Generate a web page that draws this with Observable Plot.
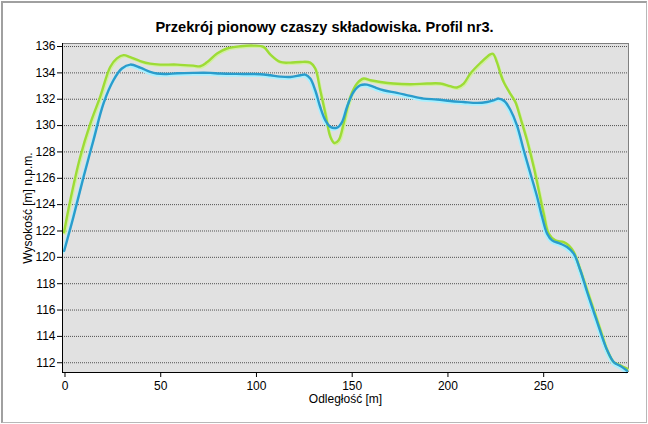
<!DOCTYPE html>
<html>
<head>
<meta charset="utf-8">
<script src="https://cdn.jsdelivr.net/npm/d3@7"></script>
<script src="https://cdn.jsdelivr.net/npm/@observablehq/plot@0.6"></script>
<style>
  html, body { margin: 0; padding: 0; background: #ffffff; }
  #wrap { position: relative; width: 648px; height: 424px; overflow: hidden; background: #ffffff; }
  #border { position: absolute; left: 1px; top: 1px; width: 643px; height: 419px;
            border-top: 2px solid #a0a0a0; border-left: 2px solid #a0a0a0;
            border-right: 1px solid #b8b8b8; border-bottom: 1px solid #b8b8b8; pointer-events: none; }
  svg { display: block; }
</style>
</head>
<body>
<div id="wrap"><div id="border"></div></div>
<script>
const title = "Przekrój pionowy czaszy składowiska. Profil nr3.";
const xLabel = "Odległość [m]";
const yLabel = "Wysokość [m] n.p.m.";
const xTicks = [0, 50, 100, 150, 200, 250];
const yTicks = [112, 114, 116, 118, 120, 122, 124, 126, 128, 130, 132, 134, 136];
const xDomain = [-1.3, 294.3];
const yDomain = [111.26, 136.23];

// Green series (upper profile)
const greenX = [-0.5, 2.7, 7.9, 13.2, 18.4, 23.6, 27.1, 30.6, 34.1, 39.3, 44.5, 49.7, 58.5, 67.1, 70.6, 74.1, 79.4, 84.6, 91.5, 98.5, 103.7, 107.2, 112.4, 117.7, 122.9, 128.1, 130.7, 133.3, 136, 138.6, 140.6, 142.9, 145.5, 149, 152.5, 156, 159.5, 164.7, 171.6, 180.4, 189.1, 196, 201.2, 204.7, 208.2, 211.7, 216.9, 222.1, 223.5, 225.6, 227.4, 229.1, 232.6, 235.2, 237.8, 241.3, 244.8, 247.4, 250, 252.6, 256.1, 260.5, 263.1, 265.7, 269.2, 272.7, 276.2, 279.7, 283.2, 286.6, 290.1, 293.6];
const greenY = [121.9, 124.3, 127.6, 130.15, 132.2, 134.45, 135.1, 135.35, 135.2, 134.9, 134.7, 134.63, 134.63, 134.55, 134.5, 134.8, 135.47, 135.85, 136.02, 136.07, 135.97, 135.4, 134.83, 134.78, 134.83, 134.78, 134.33, 132.68, 130.9, 129.14, 128.68, 128.89, 130.15, 132.17, 133.19, 133.57, 133.44, 133.31, 133.19, 133.14, 133.19, 133.19, 132.99, 132.89, 133.19, 133.95, 134.75, 135.41, 135.45, 134.8, 133.95, 133.3, 132.4, 131.79, 130.6, 128.89, 126.86, 125.09, 123.32, 121.8, 121.29, 121.16, 120.91, 120.4, 119.01, 117.5, 115.98, 114.46, 112.94, 112.05, 111.8, 111.55];

// Blue series (lower profile)
const blueX = [-0.4, 4.4, 9.7, 14.9, 20.1, 25.3, 29.7, 34.1, 39.3, 44.5, 48, 53.2, 58.5, 67.1, 75.9, 81.1, 93.3, 102, 107.2, 112.4, 117.7, 122.9, 125.5, 128.1, 130.7, 133.3, 136, 138.6, 142.1, 144.7, 147.3, 150.7, 154.2, 157.7, 161.2, 166.4, 173.4, 180.4, 187.3, 194.3, 201.2, 208.2, 215.2, 220.4, 223.9, 226.5, 229.6, 232.6, 236.1, 239.6, 243.1, 246.6, 249.2, 251.8, 254.4, 258.7, 262.2, 265.7, 269.2, 272.7, 276.2, 279.7, 283.2, 286.6, 290.1, 293.6];
const blueY = [120.5, 123.06, 126.1, 128.9, 131.67, 133.44, 134.33, 134.63, 134.4, 134.07, 133.95, 133.92, 133.97, 134.0, 134.0, 133.95, 133.92, 133.9, 133.82, 133.72, 133.69, 133.82, 133.87, 133.57, 132.68, 131.41, 130.4, 129.9, 129.85, 130.27, 131.41, 132.55, 133.06, 133.11, 132.93, 132.68, 132.48, 132.25, 132.05, 131.98, 131.87, 131.79, 131.72, 131.79, 131.92, 132.05, 131.85, 131.2, 130.0, 128.13, 126.36, 124.58, 123.06, 121.8, 121.29, 121.04, 120.78, 120.28, 119.0, 117.37, 115.85, 114.33, 112.94, 112.05, 111.75, 111.4];

const green = greenX.map((x, i) => ({x, y: greenY[i]}));
const blue = blueX.map((x, i) => ({x, y: blueY[i]}));

const chart = Plot.plot({
  width: 648,
  height: 424,
  marginLeft: 62,
  marginRight: 20,
  marginTop: 43,
  marginBottom: 52,
  style: {fontFamily: "'Liberation Sans', Arial, sans-serif", fontSize: "12px", background: "transparent", color: "#000"},
  x: {domain: xDomain},
  y: {domain: yDomain},
  marks: [
    Plot.frame({fill: "#e1e1e1", stroke: null}),
    Plot.gridY(yTicks, {stroke: "#505050", strokeOpacity: 1, strokeDasharray: "1,1", strokeWidth: 1}),
    Plot.ruleY([yDomain[1]], {stroke: "#808080", strokeWidth: 1}),
    Plot.ruleX([xDomain[1]], {stroke: "#808080", strokeWidth: 1}),
    Plot.line(green, {x: "x", y: "y", curve: "catmull-rom", stroke: "#d2f0a0", strokeWidth: 2.5, dx: 1, dy: 1.2}),
    Plot.line(blue, {x: "x", y: "y", curve: "catmull-rom", stroke: "#a8f0ff", strokeWidth: 2.8, dx: -1, dy: 1.5}),
    Plot.line(green, {x: "x", y: "y", curve: "catmull-rom", stroke: "#9ddc36", strokeWidth: 2.4}),
    Plot.line(blue, {x: "x", y: "y", curve: "catmull-rom", stroke: "#2a9ccc", strokeWidth: 2.4}),
    Plot.ruleY([yDomain[0]], {stroke: "#000", strokeWidth: 1}),
    Plot.ruleX([xDomain[0]], {stroke: "#000", strokeWidth: 1}),
    Plot.axisY(yTicks, {tickSize: 5, tickPadding: 2, label: null, fontSize: 12, stroke: "#000", fill: "#000"}),
    Plot.axisX(xTicks, {tickSize: 5, tickPadding: 4, label: null, fontSize: 12, stroke: "#000", fill: "#000"}),
    Plot.text([title], {frameAnchor: "top", dx: -21, dy: -16, lineAnchor: "middle", fontWeight: "bold", fontSize: 14.6, fill: "#000"}),
    Plot.text([xLabel], {frameAnchor: "bottom", dy: 27, lineAnchor: "middle", fontSize: 12, fill: "#000"}),
    Plot.text([yLabel], {frameAnchor: "left", dx: -34, rotate: -90, lineAnchor: "middle", textAnchor: "middle", fontSize: 12, fill: "#000"})
  ]
});
document.getElementById("wrap").insertBefore(chart, document.getElementById("border"));
</script>
</body>
</html>
